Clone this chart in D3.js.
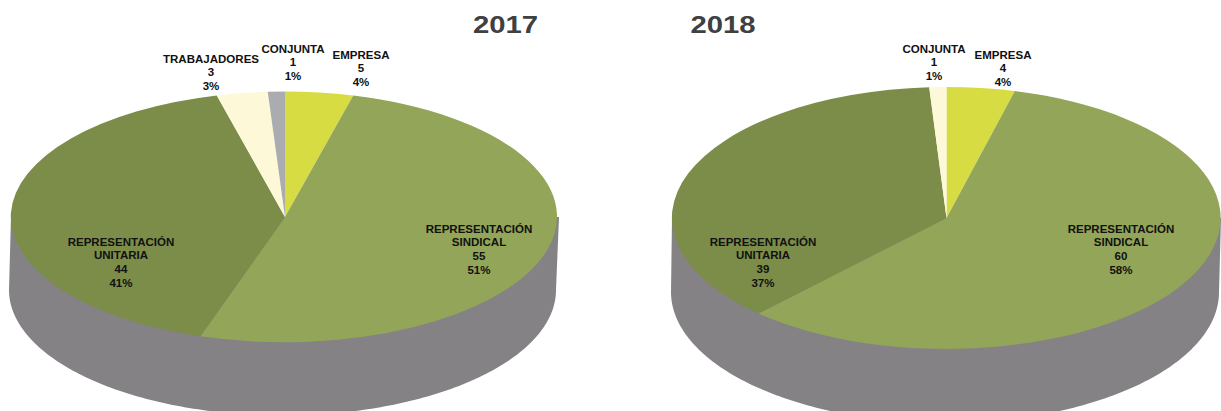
<!DOCTYPE html>
<html>
<head>
<meta charset="utf-8">
<script src="https://cdnjs.cloudflare.com/ajax/libs/d3/7.8.5/d3.min.js"></script>
<style>
  html, body { margin: 0; padding: 0; background: #fff; }
  svg { display: block; }
  text { font-family: "Liberation Sans", Arial, sans-serif; font-weight: bold; text-anchor: middle; }
</style>
</head>
<body>
<svg id="chart" width="1221" height="411"></svg>
<script>
// data
const years = ['2017', '2018'];

const names2017 = [['EMPRESA'], ['REPRESENTACIÓN', 'SINDICAL'], ['REPRESENTACIÓN', 'UNITARIA'], ['TRABAJADORES'], ['CONJUNTA']];
const counts2017 = [5, 55, 44, 3, 1];
const percent2017 = [4, 51, 41, 3, 1];

const names2018 = [['EMPRESA'], ['REPRESENTACIÓN', 'SINDICAL'], ['REPRESENTACIÓN', 'UNITARIA'], ['CONJUNTA']];
const counts2018 = [4, 60, 39, 1];
const percent2018 = [4, 58, 37, 1];

// layout and colours
const colors2017 = ['#d7dc42', '#93a558', '#7c8d49', '#fdf8d8', '#abacb0'];
const colors2018 = ['#d7dc42', '#93a558', '#7c8d49', '#fdf8d8'];
const wallColor = '#848285';

const labelPos2017 = [[361, 54], [479, 228], [121, 241], [211, 58], [293, 48]];
const labelPos2018 = [[1003, 54], [1121, 228], [763, 241], [934, 48]];
const titleX = [505.5, 723];

const svg = d3.select('#chart');

// text in the reference is a little stretched sideways
function stretch(sel, factor) {
    sel.attr('textLength', function () { return this.getComputedTextLength() * factor; })
        .attr('lengthAdjust', 'spacingAndGlyphs');
}

function wallPath(cfg) {
    const bottom = d3.range(0, 181).map(a => {
        const t = a * Math.PI / 180;
        return [cfg.bx + cfg.brx * Math.cos(t), cfg.by + cfg.ry * Math.sin(t)];
    });
    return d3.line()([[cfg.cx + cfg.rx, cfg.cy]].concat(bottom, [[cfg.cx - cfg.rx, cfg.cy]])) + 'Z';
}

function drawPie(cfg) {
    const g = svg.append('g');

    g.append('path')
        .attr('d', wallPath(cfg))
        .attr('fill', wallColor);

    const pie = d3.pie().sort(null).value(d => d);
    const arc = d3.arc().innerRadius(0).outerRadius(1);

    // slices come from the printed percentages, squashed into an ellipse
    g.append('g')
        .attr('transform', `translate(${cfg.cx},${cfg.cy}) scale(${cfg.rx},${cfg.ry})`)
        .selectAll('path')
        .data(pie(cfg.percent))
        .enter()
        .append('path')
        .attr('d', arc)
        .attr('fill', (d, i) => cfg.colors[i]);

    // labels
    cfg.names.forEach((name, i) => {
        const lines = name.concat([String(cfg.counts[i]), cfg.percent[i] + '%']);
        g.append('g')
            .selectAll('text')
            .data(lines)
            .enter()
            .append('text')
            .attr('x', cfg.labelPos[i][0])
            .attr('y', (d, j) => cfg.labelPos[i][1] + j * 13.9 + 4.5)
            .attr('font-size', 11.3)
            .attr('fill', '#111')
            .text(d => d)
            .call(stretch, 1.02);
    });
}

drawPie({
    cx: 285, cy: 217, rx: 274, ry: 125.5,
    bx: 282.5, by: 290, brx: 273.5,
    names: names2017, counts: counts2017, percent: percent2017,
    colors: colors2017, labelPos: labelPos2017
});

drawPie({
    cx: 946.5, cy: 218, rx: 274.5, ry: 131,
    bx: 945, by: 292, brx: 274,
    names: names2018, counts: counts2018, percent: percent2018,
    colors: colors2018, labelPos: labelPos2018
});

// year titles
svg.selectAll('.year')
    .data(years)
    .enter()
    .append('text')
    .attr('class', 'year')
    .attr('x', (d, i) => titleX[i])
    .attr('y', 33)
    .attr('font-size', 24)
    .attr('fill', '#404040')
    .text(d => d)
    .call(stretch, 1.22);
</script>
</body>
</html>
